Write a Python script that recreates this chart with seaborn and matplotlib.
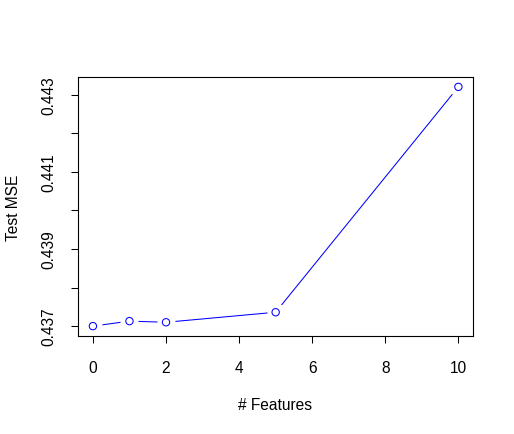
import matplotlib
matplotlib.use("Agg")
import matplotlib.pyplot as plt
import seaborn as sns
import pandas as pd
import numpy as np

n_features = [0, 1, 2, 5, 10]
test_mse = [0.43700, 0.43713, 0.43710, 0.43736, 0.44320]
x_ticks = [0, 2, 4, 6, 8, 10]
y_ticks = [0.437, 0.438, 0.439, 0.440, 0.441, 0.442, 0.443]
y_ticklabels = ["0.437", "", "0.439", "", "0.441", "", "0.443"]

sns.set_style("white")
plt.rcParams["font.family"] = ["Liberation Sans", "DejaVu Sans"]

df = pd.DataFrame({"n": n_features, "mse": test_mse})

W, H = 514, 435
fig = plt.figure(figsize=(W / 100, H / 100), dpi=100)
l, r, t, b = 78.3, 473.0, 78.3, 336.7
ax = fig.add_axes([l / W, 1 - b / H, (r - l) / W, (b - t) / H])

sns.lineplot(data=df, x="n", y="mse", color="blue", linewidth=0.75, ax=ax, zorder=2)
sns.scatterplot(data=df, x="n", y="mse", s=170, color="white", edgecolor="white",
                linewidth=0, ax=ax, zorder=3)
sns.scatterplot(data=df, x="n", y="mse", s=28, facecolor="none", edgecolor="blue",
                linewidth=0.75, ax=ax, zorder=4)

xmin, xmax = min(n_features), max(n_features)
ymin, ymax = min(test_mse), max(test_mse)
dx, dy = (xmax - xmin) * 0.04, (ymax - ymin) * 0.04
ax.set_xlim(xmin - dx, xmax + dx)
ax.set_ylim(ymin - dy, ymax + dy)

ax.set_xticks(x_ticks)
ax.set_xticklabels([str(v) for v in x_ticks])
ax.set_yticks(y_ticks)
ax.set_yticklabels(y_ticklabels)

fs = 11.2
ax.tick_params(axis="both", direction="out", length=5.2, width=0.75, color="black",
               labelsize=fs, labelcolor="black", bottom=True, left=True)
ax.tick_params(axis="x", pad=12)
ax.tick_params(axis="y", pad=10.5, labelrotation=90)
for lab in ax.get_yticklabels():
    lab.set_va("center")

for s in ax.spines.values():
    s.set_color("black")
    s.set_linewidth(0.8)

ax.set_xlabel("# Features", fontsize=fs, color="black", va="center")
ax.set_ylabel("Test MSE", fontsize=fs, color="black", va="center")
ax.xaxis.set_label_coords((275.5 - l) / (r - l), -(405 - b) / (b - t))
ax.yaxis.set_label_coords(-(l - 13.5) / (r - l), 0.5)
ax.legend_ = None

fig.savefig("out.png", dpi=100)
